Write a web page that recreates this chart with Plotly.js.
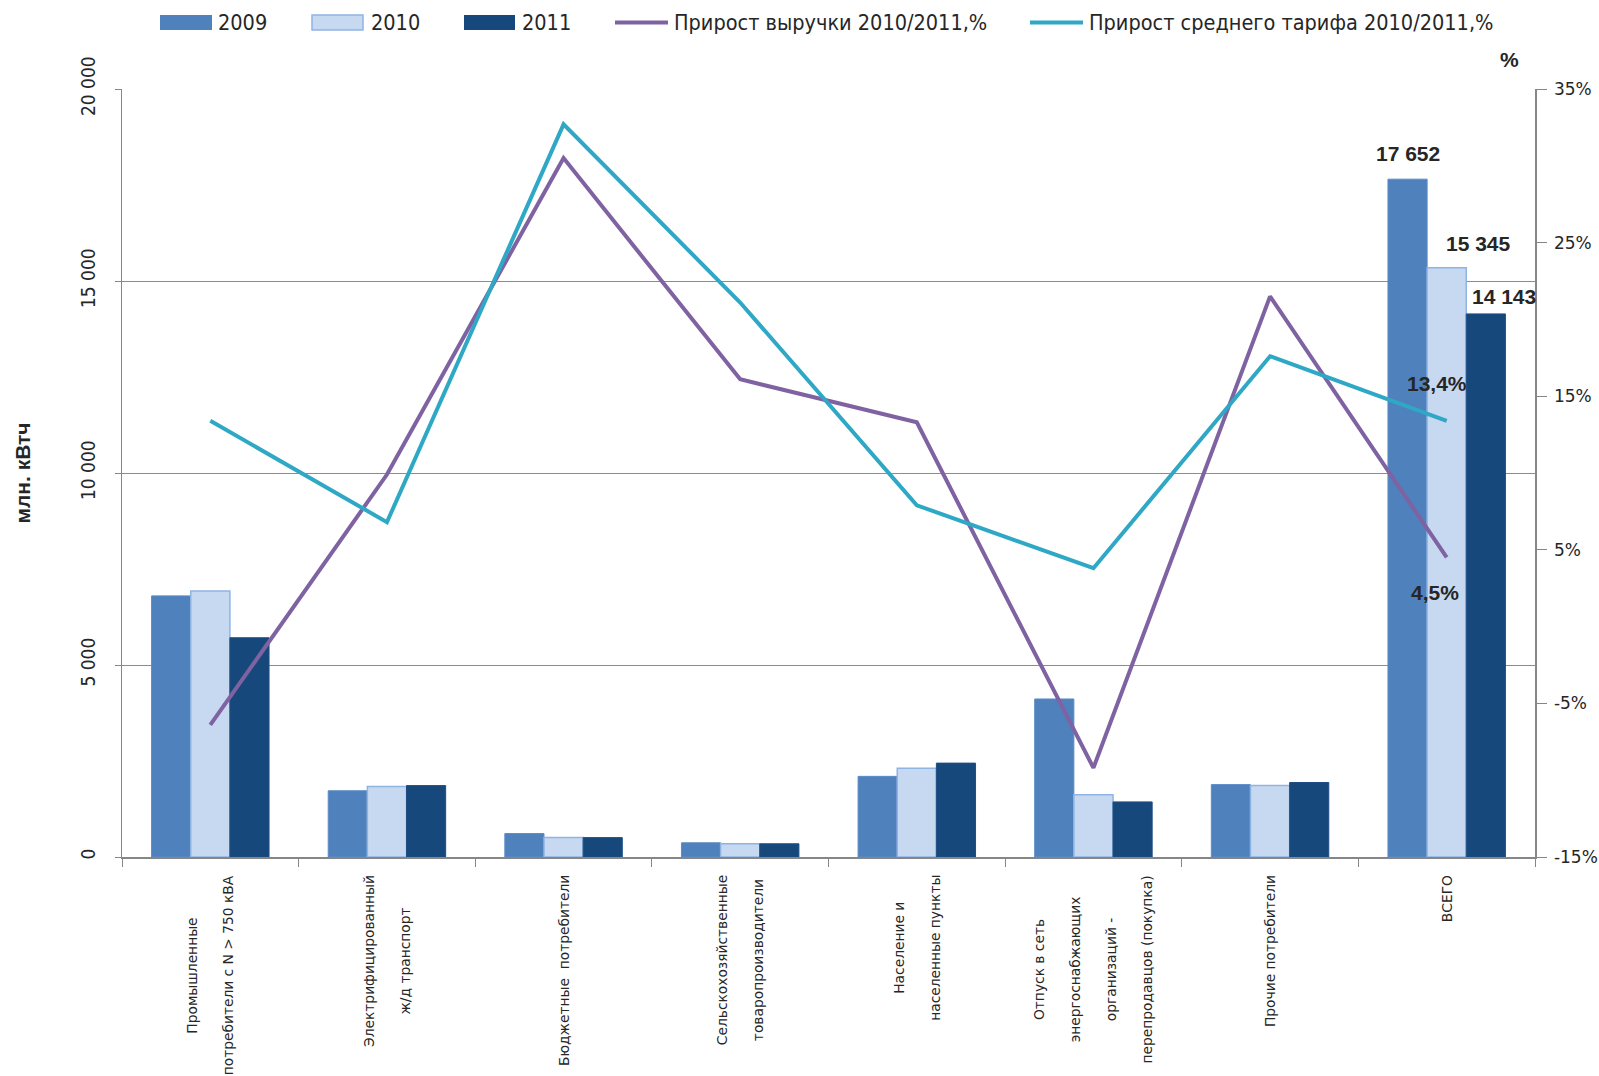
<!DOCTYPE html>
<html><head><meta charset="utf-8">
<script src="https://cdn.plot.ly/plotly-3.0.1.min.js"></script>
<style>html,body{margin:0;padding:0;background:#fff}#chart{width:1599px;height:1076px}</style>
</head><body><div id="chart"></div>
<script>
const categoryLines = [
  ["Промышленные", "потребители с N > 750 кВА"],
  ["Электрифицированный", "ж/д транспорт"],
  ["Бюджетные  потребители"],
  ["Сельскохозяйственные", "товаропроизводители"],
  ["Население и", "населенные пункты"],
  ["Отпуск в сеть", "энергоснабжающих", "организаций -", "перепродавцов (покупка)"],
  ["Прочие потребители"],
  ["ВСЕГО"]
];
const categories = categoryLines.map(l => l.join(" "));
const v2009 = [6800, 1725, 610, 370, 2100, 4115, 1885, 17652];
const v2010 = [6930, 1835, 505, 345, 2310, 1620, 1860, 15345];
const v2011 = [5710, 1860, 505, 345, 2445, 1435, 1940, 14143];
const revenueGrowth = [-6.4, 9.9, 30.5, 16.1, 13.3, -9.2, 21.5, 4.5];
const tariffGrowth = [13.4, 6.8, 32.7, 21.1, 7.9, 3.8, 17.6, 13.4];
const leftTickVals = [0, 5000, 10000, 15000, 20000];
const leftTickText = ["0", "5 000", "10 000", "15 000", "20 000"];
const rightTickVals = [-15, -5, 5, 15, 25, 35];
const rightTickText = ["-15%", "-5%", "5%", "15%", "25%", "35%"];
const seriesNames = ["2009", "2010", "2011", "Прирост выручки 2010/2011,%", "Прирост среднего тарифа 2010/2011,%"];
const totalLabels = ["17 652", "15 345", "14 143"];
const growthLabels = ["4,5%", "13,4%"];

const C2009 = "#4F81BD", C2010 = "#C6D9F1", C2010L = "#8EB4E3", C2011 = "#17487B";
const CPUR = "#7F62A1", CCYAN = "#2FA8C5";
const NARROW = "'Liberation Sans Narrow', 'DejaVu Sans Condensed', 'Liberation Sans', Arial, sans-serif";
const TXT = "#262626";

const traces = [
  {type: "bar", name: seriesNames[0], x: categories, y: v2009, marker: {color: C2009, line: {color: "#5B8BC6", width: 1}}, showlegend: false, hoverinfo: "y"},
  {type: "bar", name: seriesNames[1], x: categories, y: v2010, marker: {color: C2010, line: {color: C2010L, width: 1.5}}, showlegend: false, hoverinfo: "y"},
  {type: "bar", name: seriesNames[2], x: categories, y: v2011, marker: {color: C2011, line: {color: "#1F4F85", width: 1}}, showlegend: false, hoverinfo: "y"},
  {type: "scatter", mode: "lines", name: seriesNames[3], x: categories, y: revenueGrowth, yaxis: "y2", line: {color: CPUR, width: 4}, showlegend: false},
  {type: "scatter", mode: "lines", name: seriesNames[4], x: categories, y: tariffGrowth, yaxis: "y2", line: {color: CCYAN, width: 4}, showlegend: false}
];

const L = 122, T = 89, W = 1413, H = 768;
const xp = px => (px - L) / W;
const yp = py => (T + H - py) / H;

const shapes = [
  {type: "rect", xref: "paper", yref: "paper", x0: xp(160), x1: xp(212), y0: yp(30), y1: yp(15), fillcolor: C2009, line: {width: 0}},
  {type: "rect", xref: "paper", yref: "paper", x0: xp(312), x1: xp(363), y0: yp(30), y1: yp(15), fillcolor: C2010, line: {color: C2010L, width: 1.5}},
  {type: "rect", xref: "paper", yref: "paper", x0: xp(464), x1: xp(515), y0: yp(30), y1: yp(15), fillcolor: C2011, line: {width: 0}},
  {type: "line", xref: "paper", yref: "paper", x0: xp(615), x1: xp(668), y0: yp(22.5), y1: yp(22.5), line: {color: CPUR, width: 4}},
  {type: "line", xref: "paper", yref: "paper", x0: xp(1030), x1: xp(1083), y0: yp(22.5), y1: yp(22.5), line: {color: CCYAN, width: 4}}
];

const annotations = [];
const legendX = [216, 369, 520, 672, 1087];
seriesNames.forEach((n, i) => annotations.push({
  xref: "paper", yref: "paper", x: xp(legendX[i]), y: yp(22), xanchor: "left", yanchor: "middle",
  text: n, showarrow: false, font: {family: NARROW, size: 21.5, color: TXT}
}));
categoryLines.forEach((lines, i) => annotations.push({
  xref: "x", yref: "paper", x: categories[i], y: 0, yshift: -16, xanchor: "center", yanchor: "top",
  text: lines.join("<br><br>"), textangle: -90, align: "center", showarrow: false,
  font: {family: "'DejaVu Sans', Verdana, sans-serif", size: 13.8, color: TXT}
}));
const last = categories.length - 1;
const totals = [v2009[last], v2010[last], v2011[last]];
const tShift = [[0, 26], [32, 24], [18, 17]];
const BOLD = {family: "'Liberation Sans', Arial, sans-serif", size: 21, color: TXT, weight: "bold"};
totals.forEach((v, i) => annotations.push({
  xref: "x", yref: "y", x: categories[last], y: v, xshift: tShift[i][0] - 39 + 39 * i, yshift: tShift[i][1],
  xanchor: "center", yanchor: "middle", text: totalLabels[i], showarrow: false, font: BOLD
}));
annotations.push({xref: "x", yref: "y2", x: categories[last], y: revenueGrowth[last], xshift: -12, yshift: -35,
  xanchor: "center", yanchor: "middle", text: growthLabels[0], showarrow: false, font: BOLD});
annotations.push({xref: "x", yref: "y2", x: categories[last], y: tariffGrowth[last], xshift: -10, yshift: 37,
  xanchor: "center", yanchor: "middle", text: growthLabels[1], showarrow: false, font: BOLD});
annotations.push({xref: "paper", yref: "paper", x: xp(1509), y: yp(59), xanchor: "center", yanchor: "middle",
  text: "%", showarrow: false, font: BOLD});

const layout = {
  width: 1599, height: 1076,
  margin: {l: L, r: 1599 - L - W, t: T, b: 1076 - T - H, pad: 0},
  paper_bgcolor: "#fff", plot_bgcolor: "#fff",
  barmode: "group", bargap: 0.335, bargroupgap: 0,
  showlegend: false,
  xaxis: {type: "category", range: [-0.5, categories.length - 0.5], autorange: false, showticklabels: false, ticks: "outside", tickson: "boundaries", ticklen: 8,
    tickcolor: "#868686", showline: true, linecolor: "#868686", linewidth: 1.5, showgrid: false, zeroline: false, fixedrange: true},
  yaxis: {range: [0, 20000], autorange: false, tickvals: leftTickVals, ticktext: leftTickText, tickangle: -90, ticks: "outside", ticklen: 6,
    tickcolor: "#868686", showline: true, linecolor: "#868686", linewidth: 1.5, showgrid: true, gridcolor: "#8c8c8c", gridwidth: 1,
    zeroline: false, ticklabelstandoff: 12,
    tickfont: {family: NARROW, size: 19, color: TXT},
    title: {text: "млн. кВтч", standoff: 40, font: {family: "'Liberation Sans', Arial, sans-serif", size: 21, color: TXT, weight: "bold"}}},
  yaxis2: {range: [-15, 35], autorange: false, overlaying: "y", side: "right", tickvals: rightTickVals, ticktext: rightTickText, ticks: "outside",
    ticklen: 10, tickcolor: "#868686", showline: true, linecolor: "#868686", linewidth: 1.5, showgrid: false, zeroline: false,
    ticklabelstandoff: 4,
    tickfont: {family: "'DejaVu Sans', Verdana, sans-serif", size: 17, color: TXT}},
  shapes: shapes,
  annotations: annotations
};

Plotly.newPlot("chart", traces, layout, {displayModeBar: false, staticPlot: true});
</script></body></html>
